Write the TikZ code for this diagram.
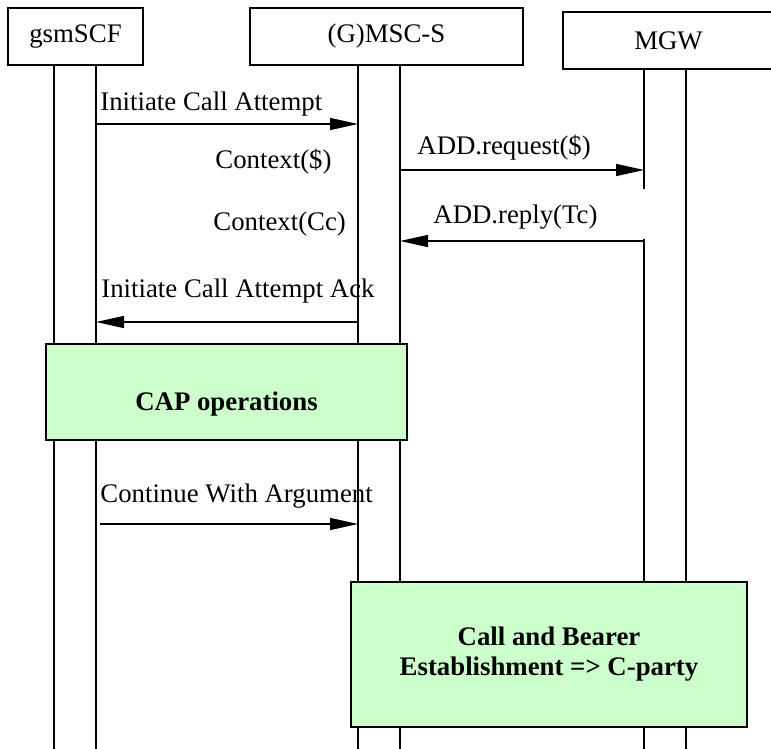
\documentclass[tikz,border=0pt]{standalone}
\usepackage{fontspec}
\setmainfont{Liberation Serif}
\usetikzlibrary{arrows.meta}
\definecolor{actgreen}{HTML}{CCFFCC}
\newcommand\diafont{\fontsize{13.4}{15}\selectfont}
\tikzset{
  entity/.style={draw,line width=0.75pt,inner sep=0pt,minimum height=28.5pt},
  action/.style={draw,line width=0.75pt,fill=actgreen,inner sep=0pt,font=\diafont\bfseries,align=center},
  life/.style={line width=0.75pt},
  msg/.style={line width=0.75pt,-{Triangle[length=14pt,width=6pt]}},
  lbl/.style={anchor=base west,inner sep=0pt},
}

\begin{document}
\begin{tikzpicture}[x=0.5pt,y=-0.5pt,font=\diafont]
  \clip (0,0) rectangle (771,749);
  % lifelines
  \coordinate (scfL) at (54,65);
  \coordinate (scfR) at (96,65);
  \coordinate (mscL) at (358,65);
  \coordinate (mscR) at (400,65);
  \coordinate (mgwL) at (644,69);
  \coordinate (mgwR) at (686,69);
  \draw[life] (scfL) -- (scfL |- 0,749);
  \draw[life] (scfR) -- (scfR |- 0,749);
  \draw[life] (mscL) -- (mscL |- 0,749);
  \draw[life] (mscR) -- (mscR |- 0,749);
  \draw[life] (mgwL) -- (mgwL |- 0,189);
  \draw[life] (mgwL |- 0,239) -- (mgwL |- 0,749);
  \draw[life] (mgwR) -- (mgwR |- 0,749);
  % entities
  \node[entity,minimum width=67.5pt] (scf) at (75.5,36.5) {gsmSCF};
  \node[entity,minimum width=136.5pt] (msc) at (386.5,36.5) {(G)MSC-S};
  \node[entity,minimum width=105.5pt] (mgw) at (668.5,40.5) {MGW};
  % messages
  \draw[msg] (scfR |- 0,124) -- (mscL |- 0,124);
  \node[lbl] (m1) at (100,111) {Initiate Call Attempt};
  \node[lbl] (c1) at (215,169) {Context(\$)};
  \draw[msg] (mscR |- 0,170) -- (mgwL |- 0,170);
  \node[lbl] (m2) at (417,155) {ADD.request(\$)};
  \node[lbl] (c2) at (213,230) {Context(Cc)};
  \draw[msg] (mgwL |- 0,241) -- (mscR |- 0,241);
  \node[lbl] (m3) at (433,223) {ADD.reply(Tc)};
  \draw[msg] (mscL |- 0,322) -- (scfR |- 0,322);
  \node[lbl] (m4) at (101,297) {Initiate Call Attempt Ack};
  % actions
  \node[action,minimum width=180.5pt,minimum height=48pt,text height=18pt,text depth=0pt] (cap) at (226.5,392) {CAP operations};
  \draw[msg] (100,524) -- (mscL |- 0,524);
  \node[lbl] (m5) at (100,502) {Continue With Argument};
  \node[action,minimum width=198pt,minimum height=72.5pt] (est) at (549,654.5) {Call and Bearer\\Establishment => C-party};
\end{tikzpicture}
\end{document}
